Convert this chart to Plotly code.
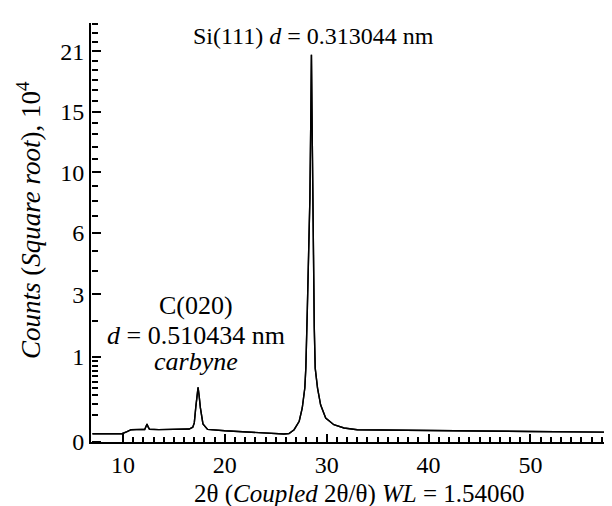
import numpy as np
import plotly.graph_objects as go

# ---- data (2theta in degrees, counts in units of 10^4) ----
two_theta = [7.0, 9.9, 10.4, 10.8, 11.8, 12.13, 12.25, 12.36, 12.48, 12.6, 13.5, 15.0, 16.5,
             16.85, 17.0, 17.15, 17.28, 17.37, 17.47, 17.6, 17.85, 18.3, 20.0, 22.0, 24.0,
             25.8, 26.3, 26.8, 27.3, 27.6, 27.85, 27.95, 28.1, 28.25, 28.35, 28.45, 28.5,
             28.55, 28.62, 28.7, 28.78, 28.87, 29.1, 29.4, 29.9, 30.7, 31.7, 33.0, 35.0,
             40.0, 45.0, 50.0, 55.0, 57.8]
counts = [0.0095, 0.0095, 0.0146, 0.0208, 0.0218, 0.0215, 0.032, 0.044, 0.030, 0.0225, 0.021,
          0.0215, 0.023, 0.030, 0.050, 0.17, 0.32, 0.41, 0.30, 0.16, 0.045, 0.022, 0.0175,
          0.014, 0.011, 0.0088, 0.010, 0.0208, 0.059, 0.159, 0.40, 0.75, 2.47, 5.72, 8.18,
          15.3, 20.6, 15.3, 8.18, 4.65, 1.79, 0.75, 0.40, 0.19, 0.079, 0.041, 0.027, 0.0208,
          0.0198, 0.0188, 0.0166, 0.0152, 0.0137, 0.0132]

y_tick_values = [0, 1, 3, 6, 10, 15, 21]
y_tick_labels = ["0", "1", "3", "6", "10", "15", "21"]
y_minor_values = [0.1, 0.2, 0.3, 0.4, 0.5, 0.6, 0.7, 0.8, 0.9, 2, 4, 5, 7, 8, 9,
                  11, 12, 13, 14, 16, 17, 18, 19, 20, 22, 23, 24]
x_tick_values = [10, 20, 30, 40, 50]
x_tick_labels = ["10", "20", "30", "40", "50"]
x_minor_values = [v for v in range(10, 59) if v % 10 != 0]

FONT = "Liberation Serif"
X0, X1 = 6.86, 58.4
Y0, Y1 = 0.0, 4.912

sq = np.sqrt(np.array(counts))

fig = go.Figure()
fig.add_trace(go.Scatter(x=two_theta, y=sq, mode="lines",
                         line=dict(color="black", width=1.4), showlegend=False))
# same curve on the overlaid y axis (it carries the inward-pointing y ticks)
fig.add_trace(go.Scatter(x=two_theta, y=sq, mode="lines", yaxis="y2",
                         line=dict(color="black", width=1.4), showlegend=False,
                         hoverinfo="skip"))

fig.update_layout(
    width=612, height=506,
    margin=dict(l=83, r=4, t=15, b=72),
    paper_bgcolor="white", plot_bgcolor="white",
    font=dict(family=FONT, size=24, color="black"),
)
fig.update_xaxes(
    range=[X0, X1], showgrid=False, zeroline=False,
    showline=True, linecolor="black", linewidth=2,
    tickmode="array", tickvals=x_tick_values, ticktext=x_tick_labels,
    ticks="inside", ticklen=8, tickwidth=2, tickcolor="black",
    tickfont=dict(family=FONT, size=24),
    minor=dict(tickmode="array", tickvals=x_minor_values, ticks="inside",
               ticklen=5, tickwidth=2, tickcolor="black", showgrid=False),
)
fig.update_layout(
    yaxis=dict(
        range=[Y0, Y1], showgrid=False, zeroline=False,
        showline=True, linecolor="black", linewidth=2,
        tickmode="array", tickvals=list(np.sqrt(y_tick_values)), ticktext=y_tick_labels,
        ticks="", tickfont=dict(family=FONT, size=24),
    ),
    yaxis2=dict(
        overlaying="y", side="right", anchor="free", position=0,
        range=[Y0, Y1], showgrid=False, zeroline=False, showline=False,
        tickmode="array", tickvals=list(np.sqrt(y_tick_values)), showticklabels=False,
        ticks="outside", ticklen=9, tickwidth=2, tickcolor="black",
        minor=dict(tickmode="array", tickvals=list(np.sqrt(y_minor_values)),
                   ticks="outside", ticklen=6, tickwidth=2, tickcolor="black",
                   showgrid=False),
    ),
)

ann = [
    dict(text="Si(111) <i>d</i> = 0.313044 nm", x=28.7, y=4.76, size=24),
    dict(text="C(020)", x=17.17, y=1.60, size=26),
    dict(text="<i>d</i> = 0.510434 nm", x=17.17, y=1.25, size=26),
    dict(text="<i>carbyne</i>", x=17.17, y=0.94, size=26),
]
for a in ann:
    fig.add_annotation(text=a["text"], x=a["x"], y=a["y"], xref="x", yref="y",
                       showarrow=False, xanchor="center", yanchor="middle",
                       font=dict(family=FONT, size=a["size"], color="black"))

fig.add_annotation(text="2θ (<i>Coupled</i> 2θ/θ) <i>WL</i> = 1.54060",
                   xref="paper", yref="paper", x=0.512, y=-0.125,
                   xanchor="center", yanchor="middle", showarrow=False,
                   font=dict(family=FONT, size=25, color="black"))
fig.add_annotation(text="<i>Counts</i> (<i>Square root</i>), 10<sup>4</sup>",
                   xref="paper", yref="paper", x=-0.118, y=0.53, textangle=-90,
                   xanchor="center", yanchor="middle", showarrow=False,
                   font=dict(family=FONT, size=27, color="black"))

fig.write_html("out.html")
